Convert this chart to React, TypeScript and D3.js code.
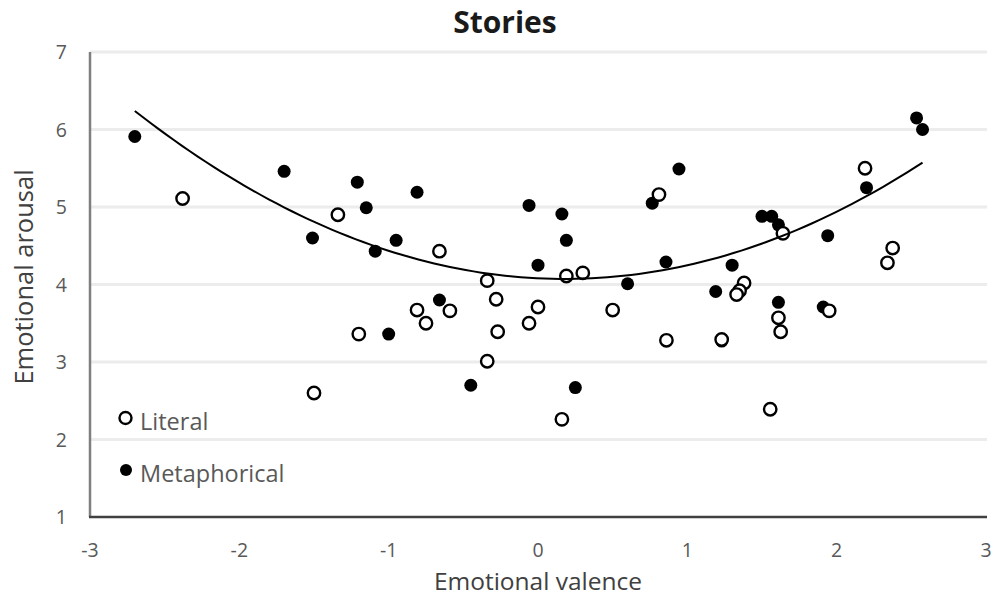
import React from "react";
import * as d3 from "d3";

const W = 994;
const H = 597;

const literalX = [-2.38, -1.34, -0.66, -0.34, 0.19, 0.30, -0.81, -0.59, -0.75, -0.28, 0.00, -0.06, -0.27, -1.20, 0.50, -0.34, 0.16, -1.50, 0.81, 1.64, 2.19, 2.375, 2.34, 1.38, 1.35, 1.33, 1.61, 1.625, 1.95, 0.86, 1.23, 1.555];
const literalY = [5.11, 4.90, 4.43, 4.05, 4.11, 4.15, 3.67, 3.66, 3.50, 3.81, 3.71, 3.50, 3.39, 3.36, 3.67, 3.01, 2.26, 2.60, 5.16, 4.66, 5.50, 4.47, 4.28, 4.02, 3.92, 3.87, 3.57, 3.39, 3.66, 3.28, 3.29, 2.39];

const metaphoricalX = [-2.70, -1.70, -1.51, -1.21, -1.15, -1.09, -0.95, -0.81, -1.00, -0.66, -0.45, -0.06, 0.00, 0.16, 0.19, 0.25, 0.60, 0.765, 0.944, 0.857, 1.19, 1.23, 1.30, 1.50, 1.565, 1.61, 1.61, 1.91, 1.94, 2.20, 2.535, 2.575];
const metaphoricalY = [5.91, 5.46, 4.60, 5.32, 4.99, 4.43, 4.57, 5.19, 3.36, 3.80, 2.70, 5.02, 4.25, 4.91, 4.57, 2.67, 4.01, 5.05, 5.49, 4.29, 3.91, 3.27, 4.25, 4.88, 4.88, 4.77, 3.77, 3.71, 4.63, 5.25, 6.15, 6.00];

// polynomial trendline (order 2) coefficients: a*x^2 + b*x + c
const trendCoefficients = [0.2616, -0.0936, 4.08];

const xTicks = [-3, -2, -1, 0, 1, 2, 3];
const yTicks = [1, 2, 3, 4, 5, 6, 7];

const seriesNames = ["Literal", "Metaphorical"];
const title = "Stories";
const xTitle = "Emotional valence";
const yTitle = "Emotional arousal";

const FONT = "'Open Sans', sans-serif";

export default function App() {
  const x = d3.scaleLinear().domain([-3, 3]).range([90, 986]);
  const y = d3.scaleLinear().domain([1, 7]).range([517, 52]);

  const allX = literalX.concat(metaphoricalX);
  const xMin = d3.min(allX) as number;
  const xMax = d3.max(allX) as number;
  const [a, b, c] = trendCoefficients;
  const trendPts: [number, number][] = d3.range(0, 101).map((i) => {
    const xv = xMin + ((xMax - xMin) * i) / 100;
    return [xv, a * xv * xv + b * xv + c];
  });
  const line = d3
    .line<[number, number]>()
    .x((d) => x(d[0]))
    .y((d) => y(d[1]));

  return (
    <svg
      width={W}
      height={H}
      style={{ position: "absolute", left: 0, top: 0, background: "#fff" }}
      fontFamily={FONT}
    >
      <rect x={0} y={0} width={W} height={H} fill="#fff" />
      {/* gridlines */}
      {yTicks.slice(1).map((t) => (
        <line key={"g" + t} x1={x(-3)} x2={x(3) + 1} y1={y(t)} y2={y(t)} stroke="#ececec" strokeWidth={3} />
      ))}
      {/* axes */}
      <line x1={x(-3)} x2={x(-3)} y1={y(7)} y2={y(1)} stroke="#7f7f7f" strokeWidth={2.5} />
      <line x1={x(-3) - 1} x2={x(3) + 1} y1={y(1)} y2={y(1)} stroke="#404040" strokeWidth={2.5} />
      {/* tick labels */}
      {yTicks.map((t) => (
        <text key={"yt" + t} x={67} y={y(t)} dy="0.36em" textAnchor="end" fontSize={19.5} fill="#595959">
          {t}
        </text>
      ))}
      {xTicks.map((t) => (
        <text key={"xt" + t} x={x(t)} y={557} textAnchor="middle" fontSize={19.5} fill="#595959">
          {t}
        </text>
      ))}
      {/* titles */}
      <text x={505} y={33} textAnchor="middle" fontSize={30} fontWeight={700} fill="#1a1a1a">
        {title}
      </text>
      <text x={538} y={590} textAnchor="middle" fontSize={24.5} fill="#404040">
        {xTitle}
      </text>
      <text
        transform={`translate(33, 277) rotate(-90)`}
        textAnchor="middle"
        fontSize={25.5}
        fill="#404040"
      >
        {yTitle}
      </text>
      {/* series: metaphorical (filled) */}
      {metaphoricalX.map((xv, i) => (
        <circle key={"m" + i} cx={x(xv)} cy={y(metaphoricalY[i])} r={6.5} fill="#000" />
      ))}
      {/* series: literal (open) */}
      {literalX.map((xv, i) => (
        <circle key={"l" + i} cx={x(xv)} cy={y(literalY[i])} r={6.2} fill="#fff" stroke="#000" strokeWidth={2.4} />
      ))}
      {/* trendline */}
      <path d={line(trendPts) || ""} fill="none" stroke="#000" strokeWidth={2} />
      {/* legend */}
      <circle cx={125.5} cy={418} r={6} fill="#fff" stroke="#000" strokeWidth={2.4} />
      <text x={140} y={430} fontSize={23.5} fill="#595959">
        {seriesNames[0]}
      </text>
      <circle cx={126} cy={470} r={6} fill="#000" />
      <text x={140} y={482} fontSize={23.5} fill="#595959">
        {seriesNames[1]}
      </text>
    </svg>
  );
}
